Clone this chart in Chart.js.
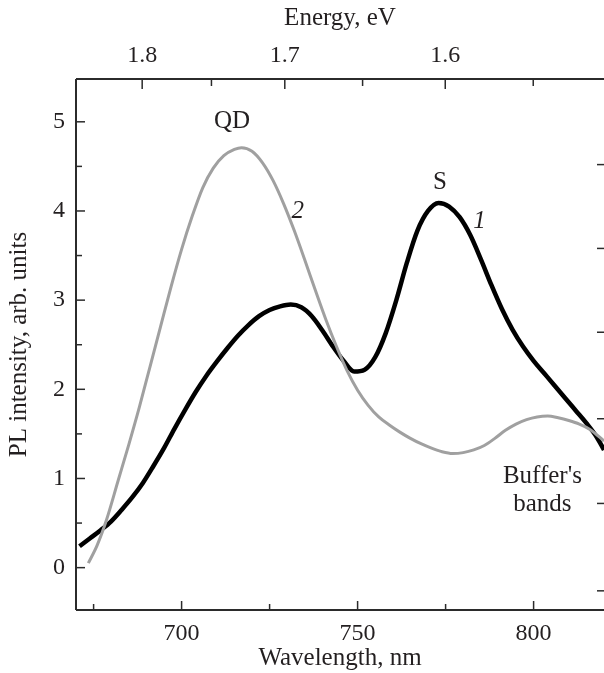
<!DOCTYPE html>
<html lang="en">
<head>
  <meta charset="UTF-8">
  <title>PL spectra</title>
  <script src="https://cdn.jsdelivr.net/npm/chart.js"></script>
  <style>
    html, body { margin: 0; padding: 0; background: #fff; overflow: hidden; }
    canvas { display: block; }
  </style>
</head>
<body>
  <canvas id="plChart" width="604" height="673"></canvas>

  <script>
    // curve 1 (black, "S" peak)
    const wl1 = [671, 674, 677, 680, 683, 686, 689, 692, 695, 698, 701, 704, 707, 710, 713, 716, 719, 722, 725, 728,
                 731, 734, 737, 740, 743, 746, 749, 752, 755, 758, 761, 764, 767, 770, 773, 776, 779, 782, 785, 788,
                 791, 794, 797, 800, 803, 806, 809, 812, 815, 818, 820];
    const pl1 = [0.24, 0.33, 0.42, 0.52, 0.65, 0.79, 0.95, 1.14, 1.34, 1.56, 1.77, 1.97, 2.15, 2.31, 2.46, 2.60, 2.72, 2.82, 2.89, 2.93,
                 2.95, 2.92, 2.82, 2.66, 2.48, 2.32, 2.20, 2.22, 2.36, 2.63, 3.00, 3.42, 3.78, 4.00, 4.09, 4.05, 3.93, 3.73, 3.46, 3.17,
                 2.90, 2.67, 2.48, 2.32, 2.18, 2.04, 1.90, 1.76, 1.62, 1.46, 1.32];

    // curve 2 (grey, "QD" peak)
    const wl2 = [673.5, 676, 678.7, 682, 685, 688, 691, 694, 697, 700, 703, 706, 709, 712, 715, 717, 720, 723, 726, 729,
                 732, 735, 738, 741, 744, 747, 750, 753, 756, 759, 762, 765, 768, 771, 774, 777, 780, 783, 786, 789,
                 792, 795, 798, 801, 804, 807, 810, 813, 816, 820];
    const pl2 = [0.05, 0.25, 0.54, 0.98, 1.38, 1.80, 2.25, 2.70, 3.15, 3.57, 3.94, 4.26, 4.48, 4.62, 4.69, 4.71, 4.67, 4.54, 4.34, 4.08,
                 3.78, 3.45, 3.11, 2.78, 2.48, 2.21, 1.99, 1.82, 1.69, 1.60, 1.52, 1.45, 1.39, 1.34, 1.30, 1.28, 1.29, 1.32, 1.37, 1.45,
                 1.54, 1.61, 1.66, 1.69, 1.70, 1.68, 1.65, 1.61, 1.55, 1.42];

    const wavelengthTicks = [700, 750, 800];
    const wavelengthMinor = [675, 725, 775];
    const energyTicks = [1.8, 1.7, 1.6];
    const energyMinor = [1.75, 1.65, 1.55];
    const intensityTicks = [0, 1, 2, 3, 4, 5];
    const intensityMinor = [0.5, 1.5, 2.5, 3.5, 4.5];
    const rightTicks = [-0.26, 0.72, 1.67, 2.64, 3.58, 4.52];

    const notes = [
      { text: 'QD', x: 714.3, y: 5.0, italic: false },
      { text: '2', x: 733, y: 4.0, italic: true },
      { text: 'S', x: 773.4, y: 4.32, italic: false },
      { text: '1', x: 784.6, y: 3.88, italic: true },
      { text: "Buffer's", x: 802.5, y: 1.02, italic: false },
      { text: 'bands', x: 802.5, y: 0.71, italic: false }
    ];

    const HC = 1239.84; // eV*nm
    const FONT = "'Liberation Serif', 'Times New Roman', serif";
    const TEXT = '#231f20';

    const toPoints = (xs, ys) => xs.map((v, i) => ({ x: v, y: ys[i] }));

    // inward ticks, axis frame and the text notes
    const framePlugin = {
      id: 'frame',
      afterDraw(chart) {
        const { ctx, chartArea: a, scales } = chart;
        const x = scales.x, xTop = scales.xTop, y = scales.y;
        ctx.save();
        ctx.strokeStyle = '#2b2b2b';
        ctx.lineWidth = 2;
        ctx.beginPath();
        ctx.moveTo(a.left, a.top); ctx.lineTo(a.right, a.top);
        ctx.moveTo(a.left, a.top); ctx.lineTo(a.left, a.bottom);
        ctx.moveTo(a.left, a.bottom); ctx.lineTo(a.right, a.bottom);
        ctx.stroke();

        ctx.lineWidth = 1.5;
        const seg = (x0, y0, x1, y1) => { ctx.beginPath(); ctx.moveTo(x0, y0); ctx.lineTo(x1, y1); ctx.stroke(); };
        wavelengthTicks.forEach(v => { const p = x.getPixelForValue(v); seg(p, a.bottom, p, a.bottom - 9); });
        wavelengthMinor.forEach(v => { const p = x.getPixelForValue(v); seg(p, a.bottom, p, a.bottom - 6); });
        energyTicks.forEach(e => { const p = xTop.getPixelForValue(HC / e); seg(p, a.top, p, a.top + 10); });
        energyMinor.forEach(e => { const p = xTop.getPixelForValue(HC / e); seg(p, a.top, p, a.top + 7); });
        intensityTicks.forEach(v => { const p = y.getPixelForValue(v); seg(a.left, p, a.left + 9, p); });
        intensityMinor.forEach(v => { const p = y.getPixelForValue(v); seg(a.left, p, a.left + 6, p); });
        rightTicks.forEach(v => { const p = y.getPixelForValue(v); seg(a.right, p, a.right - 7, p); });

        ctx.fillStyle = TEXT;
        ctx.textAlign = 'center';
        ctx.textBaseline = 'middle';
        notes.forEach(n => {
          ctx.font = (n.italic ? 'italic ' : '') + '25px ' + FONT;
          ctx.fillText(n.text, x.getPixelForValue(n.x), y.getPixelForValue(n.y));
        });
        ctx.restore();
      }
    };

    const tickFont = { family: FONT, size: 24 };
    const titleFont = { family: FONT, size: 25 };

    new Chart(document.getElementById('plChart'), {
      type: 'line',
      data: {
        datasets: [
          {
            label: '2',
            data: toPoints(wl2, pl2),
            borderColor: '#a0a0a0',
            borderWidth: 3,
            pointRadius: 0,
            cubicInterpolationMode: 'monotone'
          },
          {
            label: '1',
            data: toPoints(wl1, pl1),
            borderColor: '#000000',
            borderWidth: 4.5,
            pointRadius: 0,
            cubicInterpolationMode: 'monotone'
          }
        ]
      },
      options: {
        responsive: false,
        devicePixelRatio: 1,
        animation: false,
        layout: { padding: 0 },
        plugins: {
          legend: { display: false },
          tooltip: { enabled: false }
        },
        scales: {
          x: {
            type: 'linear',
            position: 'bottom',
            min: 670,
            max: 820,
            afterBuildTicks: s => { s.ticks = wavelengthTicks.map(v => ({ value: v })); },
            afterFit: s => { s.height = 63; },
            grid: { display: false, drawTicks: false },
            border: { display: false },
            ticks: { font: tickFont, color: TEXT, padding: 9, maxRotation: 0, autoSkip: false },
            title: { display: true, text: 'Wavelength, nm', font: titleFont, color: TEXT, padding: { top: -4, bottom: 0 } }
          },
          xTop: {
            type: 'linear',
            position: 'top',
            min: 670,
            max: 820,
            afterBuildTicks: s => { s.ticks = energyTicks.map(e => ({ value: HC / e })); },
            afterFit: s => { s.height = 79; },
            grid: { display: false, drawTicks: false },
            border: { display: false },
            ticks: {
              font: tickFont, color: TEXT, padding: 9, maxRotation: 0, autoSkip: false,
              callback: v => (HC / v).toFixed(1)
            },
            title: { display: true, text: 'Energy, eV', font: titleFont, color: TEXT, padding: { top: 3, bottom: 0 } }
          },
          y: {
            type: 'linear',
            position: 'left',
            min: -0.475,
            max: 5.48,
            afterBuildTicks: s => { s.ticks = intensityTicks.map(v => ({ value: v })); },
            afterFit: s => { s.width = 76; },
            grid: { display: false, drawTicks: false },
            border: { display: false },
            ticks: { font: tickFont, color: TEXT, padding: 11 },
            title: { display: true, text: 'PL intensity, arb. units', font: titleFont, color: TEXT, padding: { top: 4, bottom: 0 } }
          }
        }
      },
      plugins: [framePlugin]
    });
  </script>
</body>
</html>
